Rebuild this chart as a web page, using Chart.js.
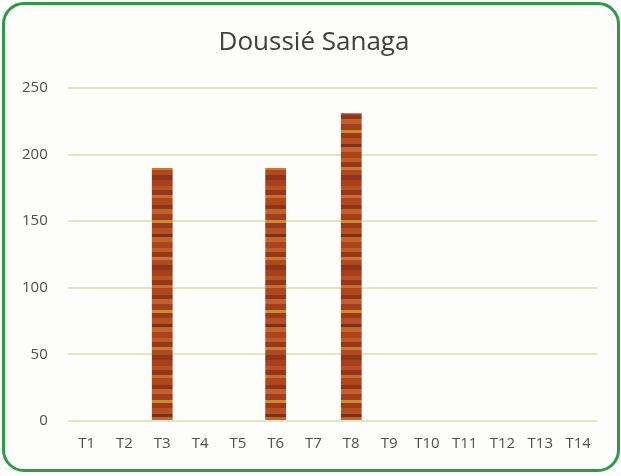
<!DOCTYPE html>
<html>
<head>
<meta charset="utf-8">
<script src="https://cdn.jsdelivr.net/npm/chart.js@4"></script>
<style>
  body { margin: 0; background: #fff; }
  #wrap { position: relative; width: 621px; height: 476px; background: #fdfdfc; }
  #frame {
    position: absolute; left: 2px; top: 2px; width: 612px; height: 464px;
    border: 3px solid #2f9a45; border-radius: 22px; pointer-events: none;
  }
  #title {
    position: absolute; left: 0; top: 25px; width: 628px; line-height: 30px;
    text-align: center; font-family: 'Open Sans', sans-serif; font-size: 26px; color: #404040;
  }
  canvas { position: absolute; left: 0; top: 0; }
</style>
</head>
<body>
<div id="wrap">
  <canvas id="chart" width="621" height="476"></canvas>
  <div id="title"></div>
  <div id="frame"></div>
</div>
<script>
const chartTitle = 'Doussié Sanaga';
const categories = ['T1', 'T2', 'T3', 'T4', 'T5', 'T6', 'T7', 'T8', 'T9', 'T10', 'T11', 'T12', 'T13', 'T14'];
const values = [0, 0, 190, 0, 0, 190, 0, 231, 0, 0, 0, 0, 0, 0];
const yTicks = [0, 50, 100, 150, 200, 250];

document.getElementById('title').textContent = chartTitle;

// wood-like texture for the bars (fixed bands of browns, uneven heights)
function woodPattern() {
    const c = document.createElement('canvas');
    c.width = 20;
    c.height = 90;
    const g = c.getContext('2d');
    const bands = [
        ['#a8401f', 6], ['#b9521f', 4], ['#93361a', 5], ['#c8702a', 3], ['#b0461d', 7],
        ['#8d3419', 4], ['#c0622a', 5], ['#a33e1e', 6], ['#d08a35', 3], ['#9a3a1b', 5],
        ['#b84f20', 6], ['#7f2f17', 3], ['#c46526', 5], ['#a9441f', 6], ['#bf5c24', 4],
        ['#96381a', 5], ['#cc7b2e', 3], ['#ad4a1f', 5], ['#8f3519', 5]
    ];
    let y = 0;
    for (const [col, h] of bands) {
        g.fillStyle = col;
        g.fillRect(0, y, 20, h);
        y += h;
    }
    return g.createPattern(c, 'repeat');
}

const ctx = document.getElementById('chart').getContext('2d');
new Chart(ctx, {
    type: 'bar',
    data: {
        labels: categories,
        datasets: [{
            label: chartTitle,
            data: values,
            backgroundColor: woodPattern(),
            borderWidth: 0,
            categoryPercentage: 1.0,
            barPercentage: 0.55
        }]
    },
    options: {
        responsive: false,
        animation: false,
        layout: { padding: { left: 2, right: 24, top: 88, bottom: 17 } },
        plugins: {
            legend: { display: false },
            tooltip: { enabled: false },
            title: { display: false }
        },
        scales: {
            x: {
                grid: { display: false },
                border: { display: false },
                ticks: {
                    color: '#505050',
                    font: { family: 'Open Sans', size: 15 },
                    padding: 6,
                    maxRotation: 0,
                    autoSkip: false
                }
            },
            y: {
                min: 0,
                max: 250,
                afterBuildTicks: axis => { axis.ticks = yTicks.map(v => ({ value: v })); },
                grid: { color: '#dce8c0', lineWidth: 2, drawTicks: false },
                border: { display: false },
                ticks: {
                    color: '#505050',
                    font: { family: 'Open Sans', size: 15 },
                    padding: 20
                }
            }
        }
    }
});
</script>
</body>
</html>
